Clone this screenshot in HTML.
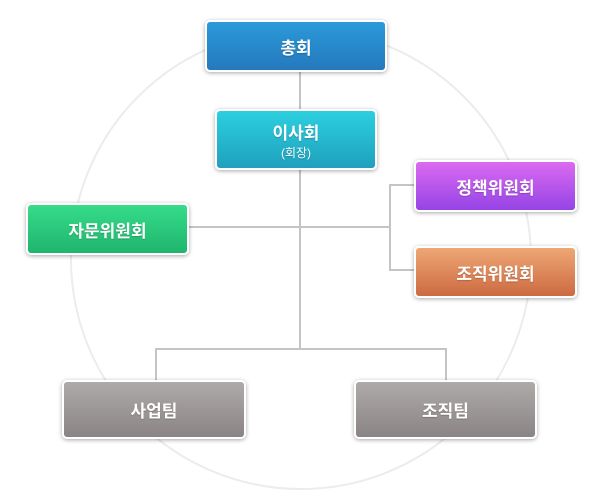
<!DOCTYPE html>
<html><head><meta charset="utf-8"><style>
body{margin:0;width:601px;height:502px;background:#fff;position:relative;overflow:hidden;font-family:"Liberation Sans","Noto Sans CJK KR",sans-serif}
.b{position:absolute;box-sizing:border-box;border:2px solid #fff;border-radius:5px;box-shadow:0 1px 4px rgba(0,0,0,.35);color:#fff;display:flex;flex-direction:column;align-items:center;justify-content:center;font-size:17px;font-weight:bold;text-shadow:0 1px 1px rgba(0,0,0,.2)}
.b small{font-size:12px;font-weight:normal;margin-top:0px}
</style></head><body>
<svg width="601" height="502" style="position:absolute;left:0;top:0">
<circle cx="301" cy="259" r="230" fill="none" stroke="#ececec" stroke-width="2"/>
<g stroke="#c4c4c4" stroke-width="2" fill="none">
<line x1="300" y1="70" x2="300" y2="112"/>
<line x1="300" y1="168" x2="300" y2="349"/>
<line x1="188" y1="227" x2="390" y2="227"/>
<polyline points="415,185 390,185 390,270 415,270"/>
<polyline points="156,382 156,349 446,349 446,382"/>
</g></svg>
<div class="b" style="left:205px;top:20px;width:182px;height:52px;background:linear-gradient(#2b9ad9,#2479bd)">총회</div>
<div class="b" style="left:215px;top:109px;width:162px;height:61px;background:linear-gradient(#2ccfdf,#1fa0bd)">이사회<small>(회장)</small></div>
<div class="b" style="left:414px;top:160px;width:163px;height:52px;background:linear-gradient(#dc6af0,#9544e6)">정책위원회</div>
<div class="b" style="left:414px;top:246px;width:163px;height:52px;background:linear-gradient(#eea774,#cc6a42)">조직위원회</div>
<div class="b" style="left:26px;top:203px;width:163px;height:52px;background:linear-gradient(#36dc8a,#1fb56d)">자문위원회</div>
<div class="b" style="left:62px;top:380px;width:184px;height:59px;background:linear-gradient(#aeaaa9,#8a8584)">사업팀</div>
<div class="b" style="left:354px;top:380px;width:183px;height:59px;background:linear-gradient(#aeaaa9,#8a8584)">조직팀</div>
</body></html>
